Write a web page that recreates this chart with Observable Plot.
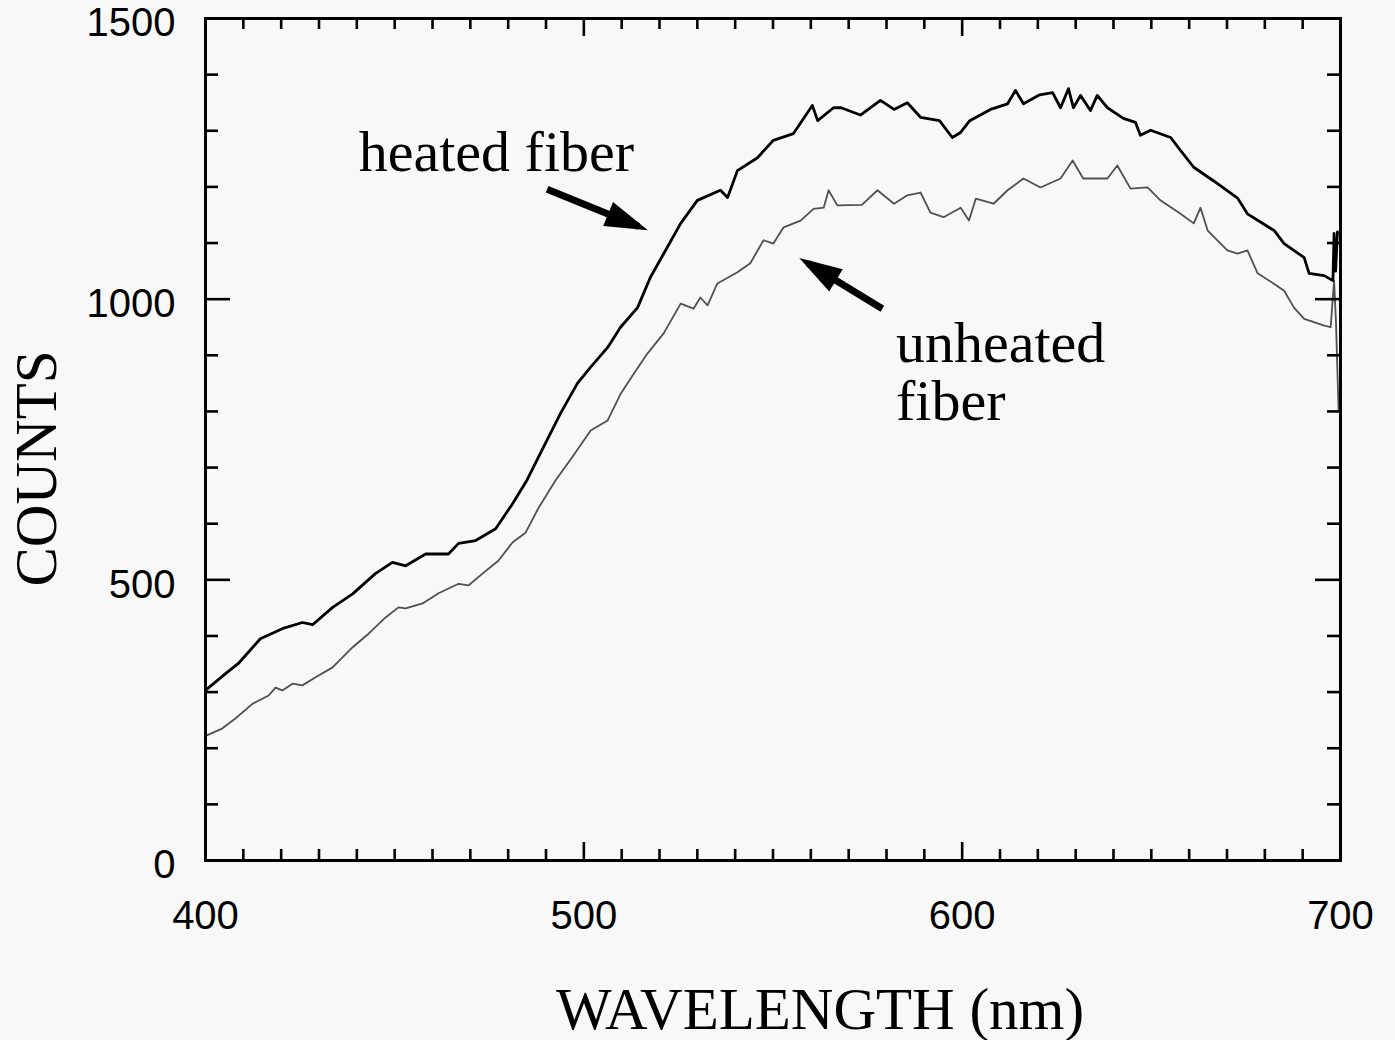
<!DOCTYPE html>
<html>
<head>
<meta charset="utf-8">
<script src="https://cdn.jsdelivr.net/npm/d3@7"></script>
<script src="https://cdn.jsdelivr.net/npm/@observablehq/plot@0.6"></script>
<style>
  html, body { margin: 0; padding: 0; background: #f8f8f8; }
  #chart svg { display: block; }
</style>
</head>
<body>
<div id="chart"></div>
<script>
// ---- data (wavelength in nm, counts) ----
const heatedX = [400, 405.3, 408.7, 414.5, 420.3, 425.6, 428.3, 433.6, 438.9, 444.9, 449.4, 452.9, 458.2, 464.2, 466.9, 471.4, 476.7, 481.2, 485, 489.3, 493.8, 498.3, 501.8, 506.3, 509.7, 514.2, 517.6, 521.1, 525.6, 530, 536.1, 538, 540.6, 545.9, 550.1, 555.4, 560.4, 561.8, 566, 568, 573.1, 578.4, 582, 585.5, 589, 594, 597.4, 599.6, 602, 607.5, 612, 614.1, 616.2, 620.5, 623.9, 626, 628.1, 629.4, 631.3, 633.9, 635.7, 638.4, 642.6, 645.8, 647.1, 649.8, 655.1, 657.7, 661.2, 666.4, 672.8, 675.4, 682.5, 685.1, 690.4, 691.7, 695.7, 698, 698.3, 698.7, 699.2];
const heatedY = [303, 333, 351, 395, 413, 424, 420, 451, 475, 511, 531, 525, 546, 546, 565, 570, 591, 636, 678, 736, 796, 850, 879, 914, 950, 985, 1039, 1081, 1135, 1176, 1194, 1181, 1229, 1252, 1283, 1295, 1345, 1318, 1341, 1341, 1328, 1354, 1338, 1350, 1324, 1318, 1288, 1297, 1318, 1338, 1348, 1372, 1348, 1364, 1368, 1341, 1375, 1341, 1363, 1336, 1363, 1341, 1322, 1315, 1292, 1301, 1288, 1265, 1235, 1211, 1180, 1152, 1122, 1099, 1074, 1046, 1042, 1033, 1117, 1050, 1120];

const unheatedX = [400, 404.4, 407.9, 412.4, 416.7, 418.5, 420.3, 423, 425.6, 429, 433.6, 438.9, 443.1, 447.6, 451, 452.9, 457.4, 461.6, 466.9, 469.5, 473.2, 477.4, 481.2, 484.6, 488.1, 492.5, 497.3, 501.8, 506.3, 509.7, 513.2, 516.8, 521.1, 525.6, 529, 530.8, 532.7, 535.3, 540.6, 544, 547.5, 550.1, 552.8, 557.3, 560.7, 563.4, 564.7, 567, 573.5, 577.6, 582, 585.5, 589, 591.6, 595.1, 599.6, 601.8, 603.6, 608.3, 612, 616.2, 620.7, 626, 629.2, 632, 638.4, 641, 644.5, 649, 652.4, 657.7, 661.2, 663, 664.9, 670.1, 672.8, 675.4, 678.1, 682.3, 685.1, 687.7, 690.4, 695.7, 697.4, 698.3, 698.8, 699.5];
const unheatedY = [222, 235, 253, 279, 294, 308, 303, 315, 312, 326, 344, 380, 404, 433, 451, 449, 458, 476, 493, 490, 511, 534, 567, 584, 629, 677, 722, 766, 784, 831, 867, 903, 939, 992, 983, 1003, 989, 1028, 1048, 1064, 1105, 1099, 1128, 1140, 1161, 1163, 1194, 1167, 1168, 1194, 1170, 1185, 1190, 1154, 1146, 1163, 1140, 1179, 1170, 1194, 1215, 1199, 1215, 1247, 1215, 1215, 1238, 1197, 1199, 1176, 1152, 1135, 1163, 1122, 1087, 1081, 1087, 1046, 1028, 1015, 985, 965, 953, 950, 1033, 960, 800];

// ticks and labels
const xLabels = [400, 500, 600, 700];
const yLabels = [0, 500, 1000, 1500];
const xMinorTicks = [410, 420, 430, 440, 450, 460, 470, 480, 490, 510, 520, 530, 540, 550, 560, 570, 580, 590, 610, 620, 630, 640, 650, 660, 670, 680, 690];
const xMajorTicks = [500, 600];
const yMinorTicks = [100, 200, 300, 400, 600, 700, 800, 900, 1100, 1200, 1300, 1400];
const yMajorTicks = [500, 1000];

// annotations (data coordinates)
const noteTexts = ["heated fiber", "unheated\nfiber"];
const noteX = [440.5, 582.5];
const noteY = [1229, 784];
const arrowFromX = [490.3, 578.9];
const arrowFromY = [1196, 983];
const arrowToX = [514.5, 559.2];
const arrowToY = [1129.5, 1064];

// ---- build ----
const W = 1395, H = 1040;
const mL = 205, mR = 55, mT = 18, mB = 180;
const pw = W - mL - mR, ph = H - mT - mB;

const heated = heatedX.map((x, i) => ({x, y: heatedY[i]}));
const unheated = unheatedX.map((x, i) => ({x, y: unheatedY[i]}));
const notes = noteTexts.map((t, i) => ({t, x: noteX[i], y: noteY[i]}));
const arrows = arrowFromX.map((x1, i) => ({x1, y1: arrowFromY[i], x2: arrowToX[i], y2: arrowToY[i]}));

function filledHead(color, context) {
  const ns = "http://www.w3.org/2000/svg";
  const doc = (context && context.document) || document;
  const m = doc.createElementNS(ns, "marker");
  m.setAttribute("viewBox", "-46 -16 50 32");
  m.setAttribute("markerWidth", "50");
  m.setAttribute("markerHeight", "32");
  m.setAttribute("markerUnits", "userSpaceOnUse");
  m.setAttribute("orient", "auto");
  m.setAttribute("refX", "-10");
  m.setAttribute("refY", "0");
  const p = doc.createElementNS(ns, "path");
  p.setAttribute("d", "M-43,-13L0,0L-43,13Z");
  p.setAttribute("fill", color);
  p.setAttribute("stroke", "none");
  m.appendChild(p);
  return m;
}

const serif = "'Liberation Serif', 'Times New Roman', serif";
const tickStroke = {stroke: "#000", strokeWidth: 2.6};
const chart = Plot.plot({
  width: W, height: H,
  marginLeft: mL, marginRight: mR, marginTop: mT, marginBottom: mB,
  style: {background: "#f8f8f8", fontFamily: "'Liberation Sans', Arial, Helvetica, sans-serif", color: "#000", overflow: "visible"},
  x: {domain: [400, 700]},
  y: {domain: [0, 1500]},
  marks: [
    Plot.line(unheated, {x: "x", y: "y", stroke: "#505050", strokeWidth: 1.8}),
    Plot.line(heated, {x: "x", y: "y", stroke: "#000", strokeWidth: 2.8}),
    // inward ticks
    Plot.tickX(xMinorTicks, {x: d => d, insetTop: ph - 11, ...tickStroke}),
    Plot.tickX(xMinorTicks, {x: d => d, insetBottom: ph - 11, ...tickStroke}),
    Plot.tickX(xMajorTicks, {x: d => d, insetTop: ph - 18, ...tickStroke}),
    Plot.tickX(xMajorTicks, {x: d => d, insetBottom: ph - 18, ...tickStroke}),
    Plot.tickY(yMinorTicks, {y: d => d, insetRight: pw - 13, ...tickStroke}),
    Plot.tickY(yMinorTicks, {y: d => d, insetLeft: pw - 13, ...tickStroke}),
    Plot.tickY(yMajorTicks, {y: d => d, insetRight: pw - 25, ...tickStroke}),
    Plot.tickY(yMajorTicks, {y: d => d, insetLeft: pw - 25, ...tickStroke}),
    Plot.frame({stroke: "#000", strokeWidth: 3}),
    Plot.axisX({ticks: xLabels, tickSize: 0, tickPadding: 40, fontSize: 40, label: null, tickFormat: d => String(d)}),
    Plot.axisY({ticks: yLabels, tickSize: 0, tickPadding: 30, dy: 5, fontSize: 40, label: null, tickFormat: d => String(d)}),
    // axis titles
    Plot.text(["WAVELENGTH (nm)"], {frameAnchor: "bottom", textAnchor: "middle", dx: 47, dy: 168, lineAnchor: "bottom", fontSize: 59, fontFamily: serif, fill: "#000"}),
    Plot.text(["COUNTS"], {frameAnchor: "left", textAnchor: "middle", rotate: -90, dx: -150, dy: 29, lineAnchor: "bottom", fontSize: 59, fontFamily: serif, fill: "#000"}),
    // annotations
    Plot.link(arrows, {x1: "x1", y1: "y1", x2: "x2", y2: "y2", stroke: "#000", strokeWidth: 7, markerEnd: filledHead}),
    Plot.text(notes, {x: "x", y: "y", text: "t", textAnchor: "start", lineAnchor: "bottom", lineHeight: 1.0, fontSize: 58, fontFamily: serif, fill: "#000"})
  ]
});
document.getElementById("chart").appendChild(chart);
</script>
</body>
</html>
